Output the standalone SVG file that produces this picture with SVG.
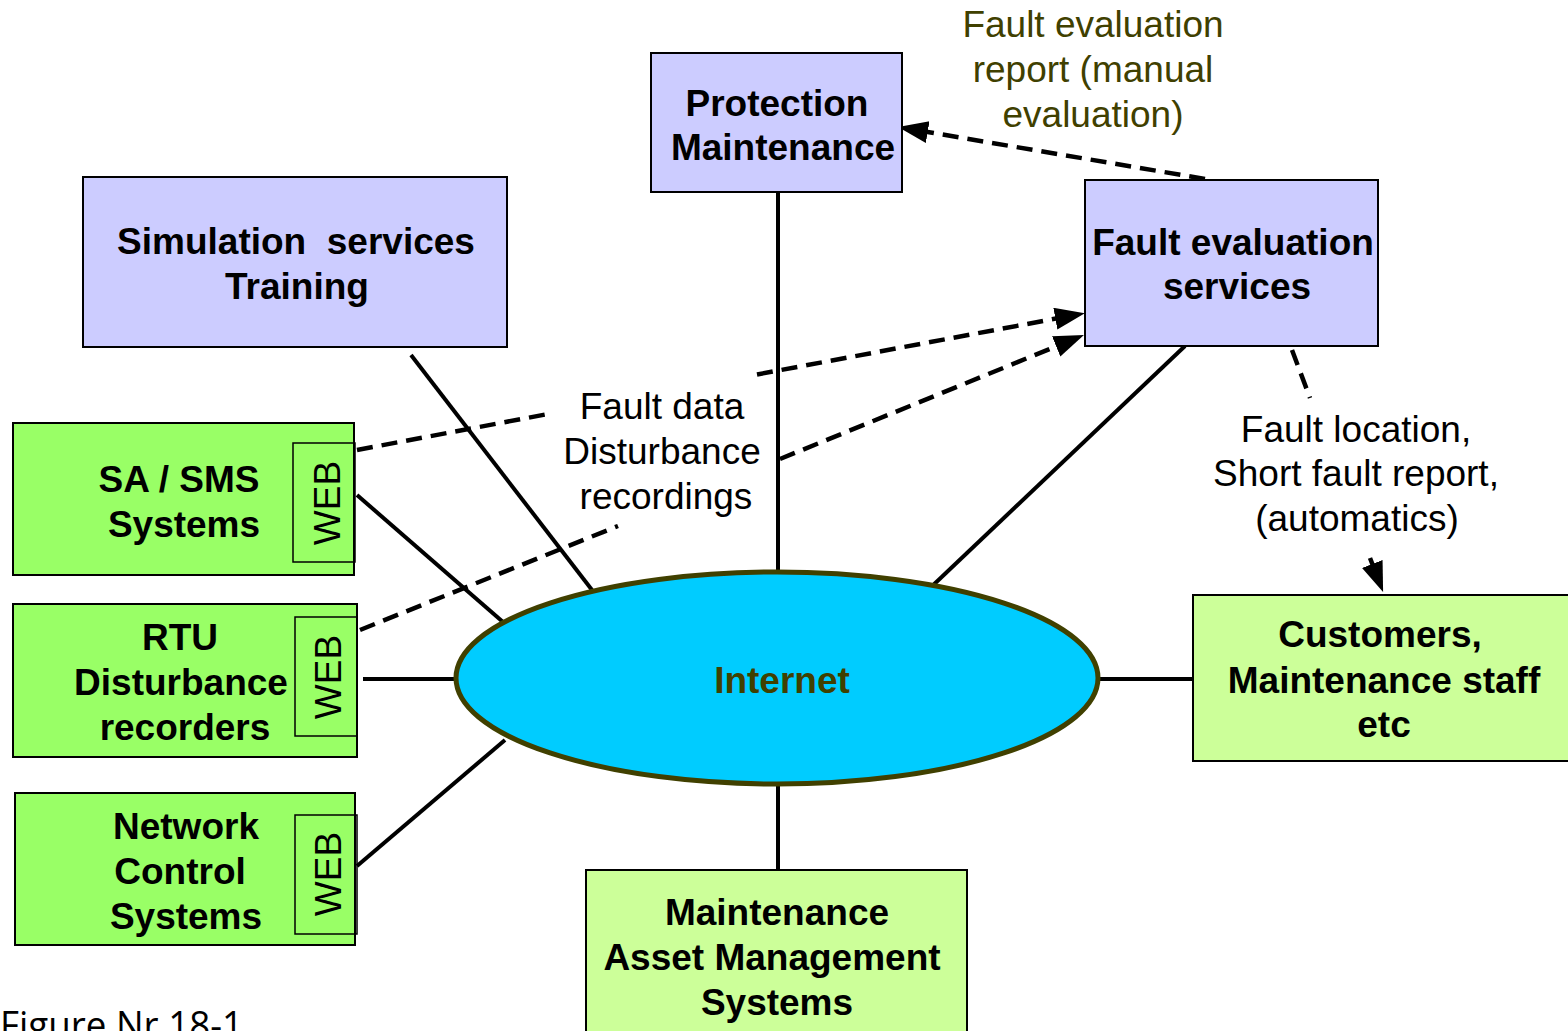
<svg xmlns="http://www.w3.org/2000/svg" width="1568" height="1031" viewBox="0 0 1568 1031">
<style>
  .t { font-family: "Liberation Sans", Arial, sans-serif; font-size: 37px; text-anchor: middle; fill: #000; white-space: pre; }
  .b { font-weight: bold; }
  .olive { fill: #404000; }
  .blue { fill: #CCCCFF; stroke: #000; stroke-width: 2; }
  .green { fill: #99FF66; stroke: #000; stroke-width: 2; }
  .lgreen { fill: #CCFF99; stroke: #000; stroke-width: 2; }
  .web { fill: none; stroke: #000; stroke-width: 1.5; }
  .solid { stroke: #000; stroke-width: 4; fill: none; }
  .dash { stroke: #000; stroke-width: 4.5; fill: none; stroke-dasharray: 16 9; }
  .arr { marker-end: url(#ah); }
</style>
<defs>
  <marker id="ah" markerUnits="userSpaceOnUse" markerWidth="32" markerHeight="24" refX="20" refY="11" orient="auto">
    <path d="M0,0 L30,11 L0,22 z" fill="#000"/>
  </marker>
</defs>
<rect width="1568" height="1031" fill="#fff"/>

<g id="connectors">
  <line class="solid" x1="778" y1="192" x2="778" y2="574"/>
  <line class="solid" x1="411" y1="355" x2="592" y2="590"/>
  <line class="solid" x1="357" y1="495" x2="503" y2="622"/>
  <line class="solid" x1="363" y1="679" x2="457" y2="679"/>
  <line class="solid" x1="357" y1="866" x2="505" y2="740"/>
  <line class="solid" x1="1185" y1="346" x2="928" y2="590"/>
  <line class="solid" x1="1099" y1="679" x2="1192" y2="679"/>
  <line class="solid" x1="778" y1="784" x2="778" y2="870"/>
  <line class="dash" x1="357" y1="450" x2="548" y2="414"/>
  <line class="dash arr" x1="757" y1="374.5" x2="1075" y2="315"/>
  <line class="dash" x1="360" y1="630" x2="618" y2="526"/>
  <line class="dash arr" x1="780" y1="459" x2="1074.7" y2="338.8"/>
  <line class="dash arr" x1="1205" y1="179" x2="908" y2="128.7"/>
  <line class="dash" x1="1292" y1="350" x2="1310" y2="398"/>
  <line class="dash arr" x1="1370" y1="558" x2="1379.5" y2="582.6"/>
</g>

<g id="protection">
  <rect class="blue" x="651" y="53" width="251" height="139"/>
  <text class="t b" x="777" y="116">Protection</text>
  <text class="t b" x="783" y="160">Maintenance</text>
</g>

<g id="simulation">
  <rect class="blue" x="83" y="177" width="424" height="170"/>
  <text class="t b" x="296" y="254">Simulation  services</text>
  <text class="t b" x="297" y="299">Training</text>
</g>

<g id="faultEval">
  <rect class="blue" x="1085" y="180" width="293" height="166"/>
  <text class="t b" x="1233" y="255">Fault evaluation</text>
  <text class="t b" x="1237" y="299">services</text>
</g>

<g id="sasms">
  <rect class="green" x="13" y="423" width="341" height="152"/>
  <rect class="web" x="293" y="443" width="62" height="119"/>
  <text class="t" transform="translate(340,503) rotate(-90)">WEB</text>
  <text class="t b" x="179" y="492">SA / SMS</text>
  <text class="t b" x="184" y="537">Systems</text>
</g>

<g id="rtu">
  <rect class="green" x="13" y="604" width="344" height="153"/>
  <rect class="web" x="295" y="617" width="62" height="119"/>
  <text class="t" transform="translate(341,677) rotate(-90)">WEB</text>
  <text class="t b" x="180" y="650">RTU</text>
  <text class="t b" x="181" y="695">Disturbance</text>
  <text class="t b" x="185" y="740">recorders</text>
</g>

<g id="network">
  <rect class="green" x="15" y="793" width="340" height="152"/>
  <rect class="web" x="295" y="815" width="62" height="119"/>
  <text class="t" transform="translate(341,874) rotate(-90)">WEB</text>
  <text class="t b" x="186" y="839">Network</text>
  <text class="t b" x="180" y="884">Control</text>
  <text class="t b" x="186" y="929">Systems</text>
</g>

<g id="internet">
  <ellipse cx="777" cy="678" rx="321" ry="106" fill="#00CCFF" stroke="#404000" stroke-width="5"/>
  <text class="t b olive" x="782" y="693">Internet</text>
</g>

<g id="customers">
  <rect class="lgreen" x="1193" y="595" width="380" height="166"/>
  <text class="t b" x="1380" y="647">Customers,</text>
  <text class="t b" x="1384" y="693">Maintenance staff</text>
  <text class="t b" x="1384" y="737">etc</text>
</g>

<g id="maintenance">
  <rect class="lgreen" x="586" y="870" width="381" height="170"/>
  <text class="t b" x="777" y="925">Maintenance</text>
  <text class="t b" x="772" y="970">Asset Management</text>
  <text class="t b" x="777" y="1015">Systems</text>
</g>

<g id="labels">
  <text class="t olive" x="1093" y="37">Fault evaluation</text>
  <text class="t olive" x="1093" y="82">report (manual</text>
  <text class="t olive" x="1093" y="127">evaluation)</text>
  <text class="t" x="662" y="419">Fault data</text>
  <text class="t" x="662" y="464">Disturbance</text>
  <text class="t" x="666" y="509">recordings</text>
  <text class="t" x="1356" y="442">Fault location,</text>
  <text class="t" x="1356" y="486">Short fault report,</text>
  <text class="t" x="1357" y="531">(automatics)</text>
  <text x="0" y="1039" font-family="'Open Sans', 'Noto Sans', sans-serif" font-size="38" textLength="243" lengthAdjust="spacingAndGlyphs" fill="#000">Figure Nr 18-1</text>
</g>
</svg>
